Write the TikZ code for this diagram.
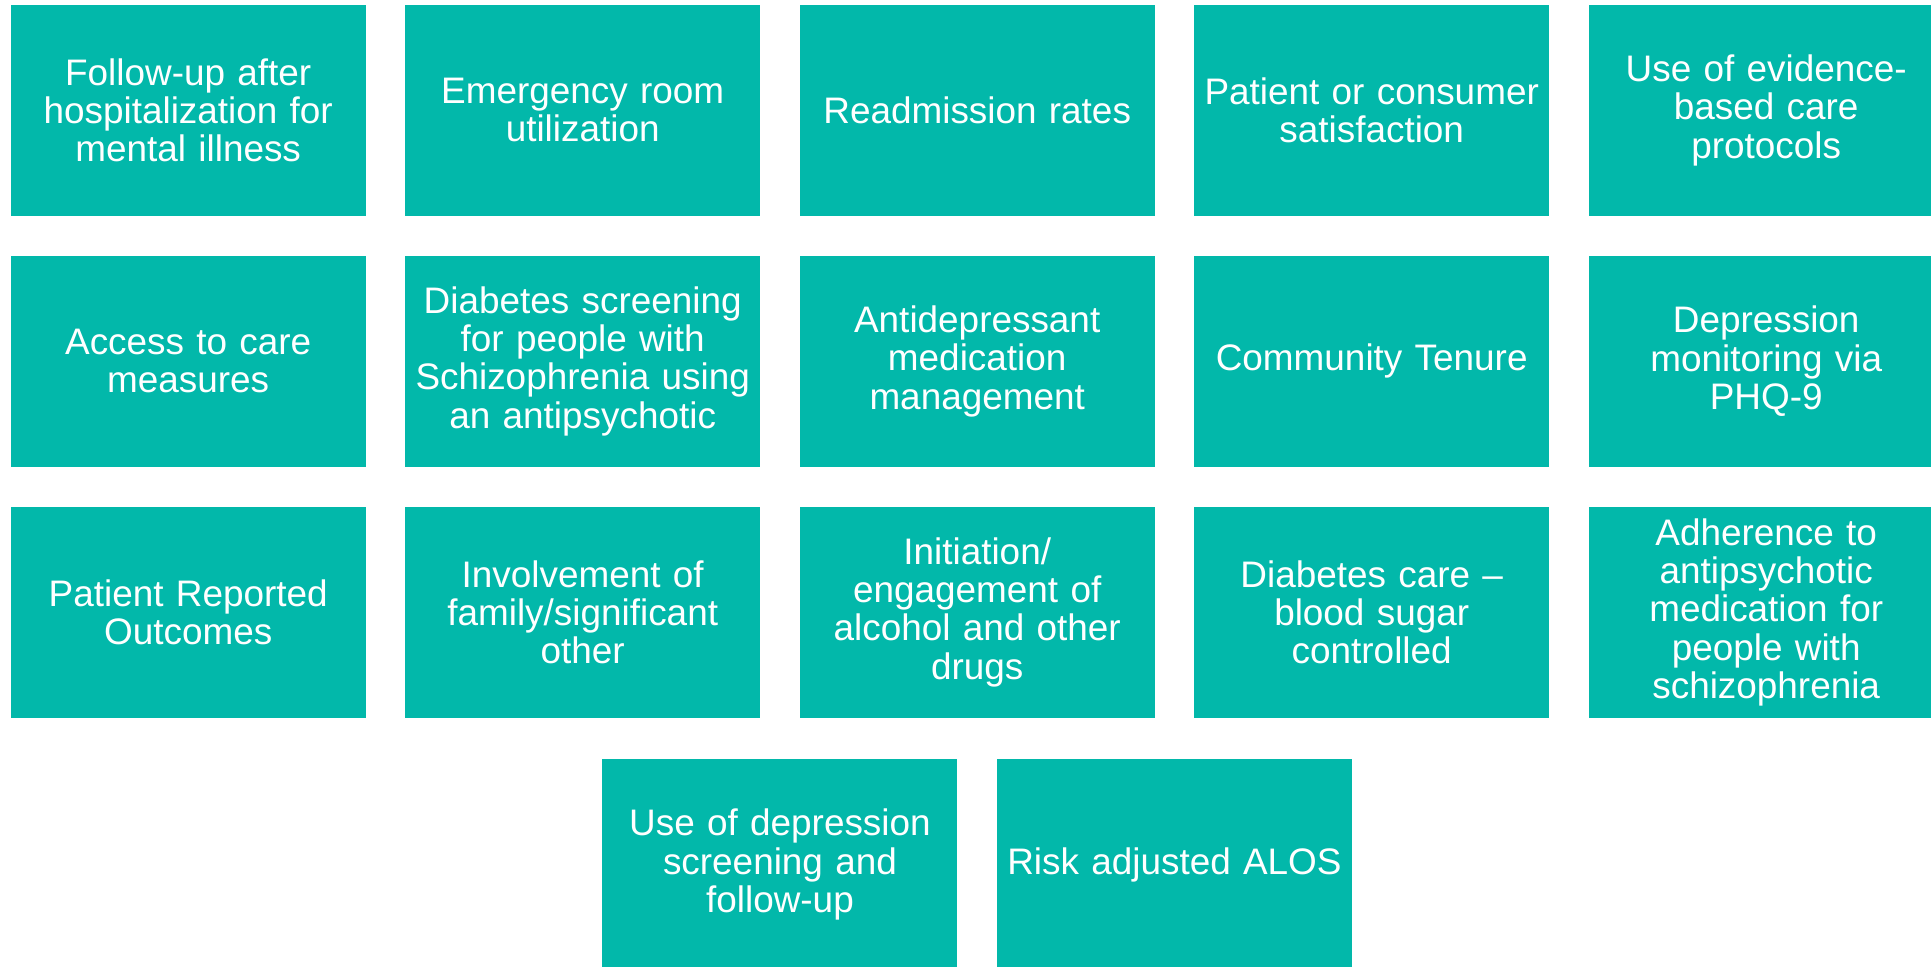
\documentclass[tikz,border=0pt]{standalone}
\usepackage{fontspec}
\setmainfont{Liberation Sans}
\usepackage{xcolor}
\usepackage{tikz}
\usetikzlibrary{matrix}
\usetikzlibrary{positioning}
\definecolor{measureteal}{RGB}{2,184,170}
% fixed word spaces, so centred lines are not stretched
\newcommand{\measurefont}{\fontsize{10.5pt}{10.9pt}\selectfont
  \spaceskip=\fontdimen2\font\relax}
\tikzset{ 
measure/.style={
  rectangle,
  fill=measureteal,
  text=white,
  inner sep=0pt,
  minimum width=3.55cm,
  minimum height=2.11cm,
  text width=3.45cm,
  align=center,
  font=\measurefont
},
measures/.style={
  matrix of nodes,
  inner sep=0pt,
  row sep=0.40cm,
  column sep=0.395cm,
  nodes={measure,anchor=center}
},
}

\begin{document}
\begin{tikzpicture}
\useasboundingbox (0,0) rectangle (19.31,-9.66);
\matrix (mat) [measures, anchor=north west] at (0.10,-0.04)
{
{Follow-up after\\hospitalization for\\mental illness} &
{Emergency room\\utilization} &
Readmission rates &
{Patient or consumer\\satisfaction} &
{Use of evidence-\\based care\\protocols} \\
{Access to care\\measures} &
{Diabetes screening\\for people with\\Schizophrenia using\\an antipsychotic} &
{Antidepressant\\medication\\management} &
Community Tenure &
{Depression\\monitoring via\\PHQ-9} \\
{Patient Reported\\Outcomes} &
{Involvement of\\family/significant\\other} &
{Initiation/\\engagement of\\alcohol and other\\drugs} &
{Diabetes care --\\blood sugar\\controlled} &
{Adherence to\\antipsychotic\\medication for\\people with\\schizophrenia} \\
};
% the last row, centred under the middle column
\node[measure, below=0.40cm of mat-3-3, xshift=-1.9725cm] (screen)
  {Use of depression\\screening and\\follow-up};
\node[measure, below=0.40cm of mat-3-3, xshift=1.9725cm] (alos)
  {Risk adjusted ALOS};
\end{tikzpicture}
\end{document}
